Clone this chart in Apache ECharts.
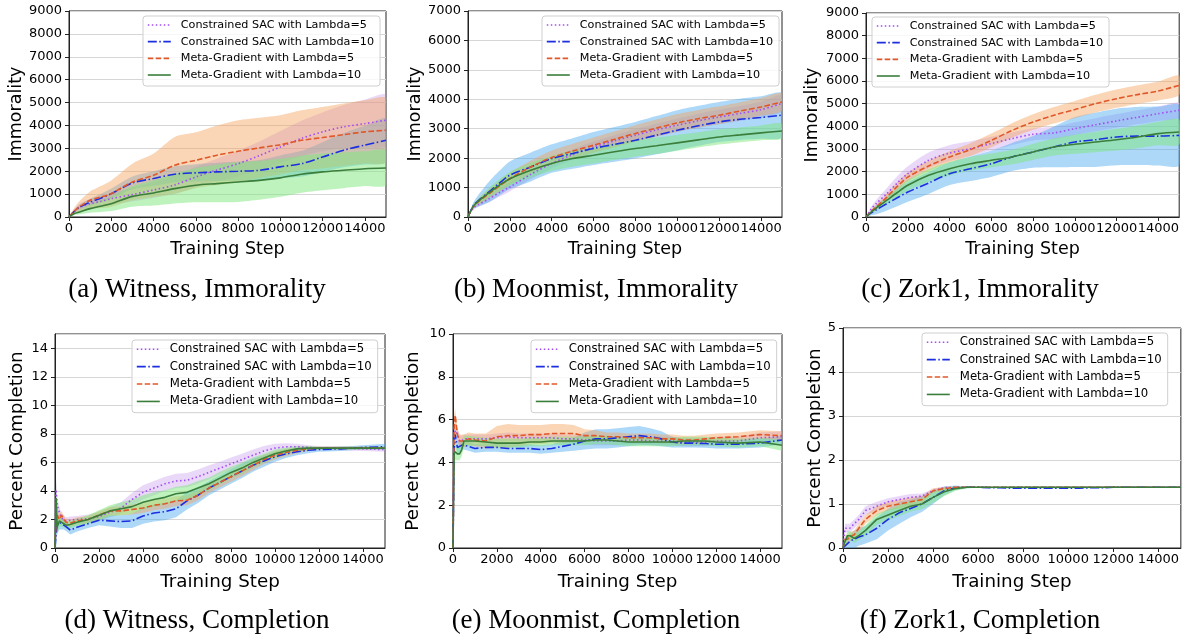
<!DOCTYPE html>
<html><head><meta charset="utf-8">
<script src="https://cdn.jsdelivr.net/npm/echarts@6/dist/echarts.min.js"></script>
<style>html,body{margin:0;padding:0;background:#fff}#c{width:1182px;height:636px}</style>
</head><body><div id="c"></div><script>
// ---------------- DATA ----------------
const METHODS = ['Constrained SAC with Lambda=5', 'Constrained SAC with Lambda=10', 'Meta-Gradient with Lambda=5', 'Meta-Gradient with Lambda=10'];
const xTicksLabelStep = 2000;

const stepsTop = [0, 250, 500, 1000, 1500, 2000, 3000, 4000, 5000, 6000, 7000, 8000, 9000, 10000, 11000, 12000, 13000, 14000, 15000];
const stepsBot = [0, 50, 100, 200, 300, 400, 500, 700, 1000, 1500, 2000, 2500, 3000, 3500, 4000, 4500, 5000, 5500, 6000, 6500, 7000, 7500, 8000, 8500, 9000, 9500, 10000, 10500, 11000, 11500, 12000, 13000, 14000, 15000];

// (a) Witness, Immorality
const witImm_csac5  = [0, 250, 440, 580, 680, 800, 980, 1180, 1400, 1750, 2050, 2330, 2680, 3060, 3430, 3720, 3940, 4080, 4230];
const witImm_csac10 = [0, 250, 430, 650, 820, 1020, 1490, 1680, 1870, 1930, 1970, 2000, 2040, 2190, 2330, 2620, 2920, 3140, 3350];
const witImm_mg5    = [0, 250, 450, 730, 870, 1020, 1530, 1820, 2260, 2480, 2700, 2870, 3020, 3160, 3350, 3470, 3600, 3720, 3790];
const witImm_mg10   = [0, 150, 220, 365, 470, 580, 900, 1050, 1240, 1390, 1460, 1530, 1600, 1710, 1870, 1970, 2040, 2110, 2140];
const witImm_csac5_err  = [0, 80, 150, 200, 220, 250, 300, 350, 400, 450, 500, 560, 620, 700, 780, 850, 950, 1050, 1100];
const witImm_csac10_err = [0, 60, 100, 150, 180, 220, 280, 320, 350, 380, 400, 420, 450, 500, 560, 650, 750, 850, 950];
const witImm_mg5_err    = [0, 150, 250, 380, 480, 580, 800, 950, 1240, 1220, 1300, 1360, 1320, 1290, 1310, 1340, 1360, 1380, 1390];
const witImm_mg10_err   = [0, 60, 100, 180, 250, 320, 450, 550, 650, 750, 820, 870, 850, 830, 810, 800, 780, 760, 750];

// (b) Moonmist, Immorality
const moonImm_csac5  = [0, 300, 420, 620, 830, 1020, 1450, 1820, 2120, 2380, 2590, 2780, 2960, 3120, 3270, 3400, 3520, 3650, 3860];
const moonImm_csac10 = [0, 380, 560, 850, 1150, 1420, 1700, 1985, 2160, 2330, 2470, 2610, 2780, 2950, 3100, 3230, 3320, 3380, 3460];
const moonImm_mg5    = [0, 350, 520, 790, 1050, 1300, 1700, 2020, 2240, 2440, 2640, 2840, 3020, 3200, 3340, 3460, 3600, 3740, 3910];
const moonImm_mg10   = [0, 360, 540, 820, 1080, 1300, 1590, 1820, 1985, 2100, 2220, 2330, 2420, 2520, 2620, 2720, 2790, 2860, 2920];
const moonImm_csac5_err  = [0, 50, 80, 120, 140, 150, 160, 170, 180, 190, 200, 210, 220, 230, 240, 250, 260, 270, 280];
const moonImm_csac10_err = [0, 100, 200, 350, 420, 470, 490, 485, 520, 560, 590, 620, 650, 680, 680, 680, 700, 720, 740];
const moonImm_mg5_err    = [0, 60, 100, 150, 180, 200, 220, 240, 250, 260, 270, 280, 290, 300, 300, 300, 300, 300, 300];
const moonImm_mg10_err   = [0, 60, 100, 160, 200, 230, 250, 260, 270, 280, 280, 280, 280, 270, 260, 260, 250, 250, 250];

// (c) Zork1, Immorality
const zorkImm_csac5  = [0, 350, 600, 1030, 1500, 1910, 2500, 2820, 3010, 3240, 3460, 3650, 3710, 3900, 4070, 4240, 4400, 4560, 4710];
const zorkImm_csac10 = [0, 180, 320, 590, 850, 1100, 1500, 1910, 2130, 2350, 2650, 2870, 3090, 3310, 3410, 3530, 3570, 3570, 3600];
const zorkImm_mg5    = [0, 250, 450, 880, 1350, 1760, 2250, 2650, 2970, 3380, 3820, 4190, 4490, 4740, 5000, 5220, 5400, 5560, 5810];
const zorkImm_mg10   = [0, 220, 400, 740, 1080, 1400, 1840, 2130, 2350, 2500, 2650, 2870, 3090, 3210, 3310, 3410, 3530, 3680, 3750];
const zorkImm_csac5_err  = [0, 100, 160, 250, 300, 330, 350, 350, 330, 300, 280, 270, 270, 280, 290, 300, 310, 320, 330];
const zorkImm_csac10_err = [0, 100, 200, 300, 380, 430, 480, 500, 540, 580, 620, 700, 900, 1100, 1200, 1250, 1280, 1300, 1320];
const zorkImm_mg5_err    = [0, 60, 100, 150, 180, 200, 230, 250, 280, 300, 320, 340, 360, 380, 390, 400, 410, 420, 430];
const zorkImm_mg10_err   = [0, 60, 100, 150, 200, 240, 280, 300, 300, 300, 320, 350, 380, 420, 450, 480, 500, 520, 550];

// (d) Witness, Completion
const witComp_csac5  = [0, 4.1, 3.0, 2.5, 2.1, 2.0, 1.9, 1.95, 2.0, 2.05, 2.2, 2.5, 2.8, 3.4, 3.9, 4.2, 4.5, 4.7, 4.75, 5.0, 5.3, 5.6, 5.9, 6.2, 6.5, 6.8, 7.0, 7.1, 7.1, 7.05, 7.0, 7.0, 6.95, 6.9];
const witComp_csac10 = [0, 1.0, 1.6, 1.8, 1.7, 1.6, 1.5, 1.25, 1.45, 1.7, 1.95, 1.9, 1.85, 1.9, 2.25, 2.45, 2.55, 2.75, 3.3, 3.7, 4.2, 4.6, 5.0, 5.4, 5.8, 6.1, 6.4, 6.6, 6.75, 6.85, 6.9, 6.95, 7.05, 7.1];
const witComp_mg5    = [0, 2.0, 2.3, 2.0, 2.3, 2.0, 1.8, 1.75, 1.9, 2.0, 2.3, 2.6, 2.6, 2.7, 2.8, 3.0, 3.1, 3.3, 3.35, 3.7, 4.2, 4.6, 5.0, 5.4, 5.8, 6.2, 6.5, 6.7, 6.85, 6.95, 7.0, 7.0, 7.0, 7.0];
const witComp_mg10   = [0, 3.5, 1.5, 1.9, 1.8, 1.7, 1.6, 1.65, 1.8, 2.0, 2.3, 2.6, 2.75, 2.9, 3.2, 3.4, 3.55, 3.8, 3.9, 4.2, 4.5, 4.9, 5.3, 5.6, 6.0, 6.3, 6.6, 6.8, 6.95, 7.0, 7.0, 7.0, 7.0, 7.0];
const witComp_csac5_err  = [0, 0.8, 0.6, 0.4, 0.3, 0.3, 0.25, 0.25, 0.25, 0.3, 0.3, 0.35, 0.4, 0.45, 0.5, 0.5, 0.5, 0.5, 0.5, 0.5, 0.5, 0.45, 0.45, 0.4, 0.4, 0.35, 0.3, 0.25, 0.2, 0.15, 0.15, 0.15, 0.15, 0.15];
const witComp_csac10_err = [0, 1.0, 0.6, 0.5, 0.4, 0.3, 0.3, 0.3, 0.3, 0.3, 0.35, 0.4, 0.45, 0.5, 0.55, 0.6, 0.6, 0.6, 0.6, 0.55, 0.5, 0.5, 0.5, 0.5, 0.45, 0.4, 0.35, 0.3, 0.25, 0.2, 0.15, 0.15, 0.15, 0.2];
const witComp_mg5_err    = [0, 0.8, 0.5, 0.4, 0.3, 0.25, 0.25, 0.25, 0.25, 0.25, 0.3, 0.3, 0.3, 0.35, 0.35, 0.35, 0.35, 0.35, 0.35, 0.35, 0.35, 0.35, 0.35, 0.35, 0.35, 0.3, 0.3, 0.25, 0.2, 0.15, 0.1, 0.1, 0.1, 0.1];
const witComp_mg10_err   = [0, 1.0, 0.6, 0.4, 0.3, 0.25, 0.25, 0.25, 0.25, 0.3, 0.35, 0.4, 0.45, 0.5, 0.5, 0.5, 0.5, 0.5, 0.5, 0.5, 0.45, 0.45, 0.4, 0.4, 0.35, 0.3, 0.3, 0.25, 0.2, 0.15, 0.1, 0.1, 0.1, 0.1];

// (e) Moonmist, Completion
const moonComp_csac5  = [0, 5.0, 5.5, 5.3, 5.0, 5.0, 5.1, 5.1, 5.1, 5.1, 5.15, 5.2, 5.15, 5.15, 5.15, 5.15, 5.1, 5.1, 5.05, 5.0, 5.0, 5.0, 5.05, 5.05, 5.0, 5.0, 5.0, 4.95, 4.95, 4.95, 5.0, 5.0, 5.15, 5.2];
const moonComp_csac10 = [0, 4.6, 5.3, 4.7, 4.75, 4.8, 4.8, 4.75, 4.65, 4.7, 4.7, 4.65, 4.65, 4.65, 4.6, 4.65, 4.75, 4.85, 5.0, 5.1, 5.1, 5.15, 5.2, 5.25, 5.2, 5.1, 4.95, 4.9, 4.9, 4.88, 4.85, 4.85, 4.9, 5.05];
const moonComp_mg5    = [0, 5.6, 6.2, 5.3, 5.0, 5.0, 5.0, 5.1, 5.05, 5.0, 5.2, 5.25, 5.25, 5.3, 5.3, 5.35, 5.35, 5.35, 5.25, 5.25, 5.2, 5.2, 5.15, 5.15, 5.15, 5.1, 5.1, 5.05, 5.05, 5.1, 5.15, 5.2, 5.3, 5.25];
const moonComp_mg10   = [0, 4.4, 4.5, 4.4, 4.4, 4.6, 5.0, 5.0, 5.0, 4.95, 4.9, 4.9, 4.9, 4.95, 4.95, 5.0, 5.0, 5.0, 5.0, 5.05, 5.05, 5.0, 4.95, 4.95, 4.95, 4.95, 4.95, 5.0, 5.0, 5.0, 4.95, 4.9, 4.95, 4.8];
const moonComp_csac5_err  = [0, 0.5, 0.4, 0.3, 0.25, 0.25, 0.2, 0.2, 0.2, 0.2, 0.2, 0.2, 0.2, 0.2, 0.2, 0.2, 0.2, 0.2, 0.2, 0.2, 0.2, 0.2, 0.2, 0.2, 0.2, 0.2, 0.2, 0.2, 0.2, 0.2, 0.2, 0.2, 0.25, 0.25];
const moonComp_csac10_err = [0, 0.5, 0.4, 0.3, 0.25, 0.2, 0.2, 0.2, 0.2, 0.2, 0.2, 0.2, 0.2, 0.2, 0.2, 0.2, 0.25, 0.3, 0.4, 0.45, 0.45, 0.45, 0.45, 0.45, 0.4, 0.35, 0.25, 0.2, 0.2, 0.2, 0.2, 0.2, 0.2, 0.2];
const moonComp_mg5_err    = [0, 0.6, 0.3, 0.3, 0.3, 0.3, 0.3, 0.3, 0.3, 0.35, 0.5, 0.55, 0.5, 0.45, 0.45, 0.45, 0.45, 0.4, 0.3, 0.25, 0.2, 0.2, 0.2, 0.2, 0.2, 0.2, 0.2, 0.2, 0.2, 0.2, 0.2, 0.2, 0.2, 0.2];
const moonComp_mg10_err   = [0, 0.5, 0.4, 0.3, 0.3, 0.3, 0.25, 0.25, 0.2, 0.2, 0.2, 0.2, 0.2, 0.2, 0.2, 0.2, 0.2, 0.2, 0.2, 0.2, 0.2, 0.2, 0.2, 0.2, 0.2, 0.2, 0.2, 0.2, 0.2, 0.2, 0.2, 0.2, 0.2, 0.25];

// (f) Zork1, Completion
const zorkComp_csac5  = [0, 0.3, 0.45, 0.45, 0.45, 0.5, 0.55, 0.65, 0.85, 0.95, 1.05, 1.1, 1.15, 1.18, 1.3, 1.37, 1.38, 1.38, 1.38, 1.38, 1.38, 1.38, 1.38, 1.38, 1.38, 1.38, 1.38, 1.38, 1.38, 1.38, 1.38, 1.38, 1.38, 1.38];
const zorkComp_csac10 = [0, 0.02, 0.05, 0.1, 0.15, 0.18, 0.2, 0.25, 0.3, 0.45, 0.65, 0.8, 0.9, 1.0, 1.15, 1.3, 1.37, 1.38, 1.38, 1.37, 1.37, 1.36, 1.36, 1.36, 1.36, 1.36, 1.36, 1.36, 1.37, 1.37, 1.38, 1.38, 1.38, 1.38];
const zorkComp_mg5    = [0, 0.1, 0.2, 0.2, 0.25, 0.28, 0.3, 0.45, 0.65, 0.85, 0.95, 1.0, 1.05, 1.1, 1.3, 1.35, 1.38, 1.38, 1.38, 1.38, 1.38, 1.38, 1.38, 1.38, 1.38, 1.38, 1.38, 1.38, 1.38, 1.38, 1.38, 1.38, 1.38, 1.38];
const zorkComp_mg10   = [0, 0.1, 0.1, 0.28, 0.28, 0.25, 0.22, 0.28, 0.4, 0.65, 0.75, 0.85, 0.95, 1.0, 1.15, 1.28, 1.35, 1.38, 1.38, 1.38, 1.38, 1.38, 1.38, 1.38, 1.38, 1.38, 1.38, 1.38, 1.38, 1.38, 1.38, 1.38, 1.38, 1.38];
const zorkComp_csac5_err  = [0, 0.1, 0.1, 0.1, 0.1, 0.1, 0.1, 0.1, 0.1, 0.1, 0.08, 0.08, 0.08, 0.06, 0.04, 0.02, 0.01, 0.01, 0.01, 0.01, 0.01, 0.01, 0.01, 0.01, 0.01, 0.01, 0.01, 0.01, 0.01, 0.01, 0.01, 0.01, 0.01, 0.01];
const zorkComp_csac10_err = [0, 0.05, 0.1, 0.15, 0.15, 0.18, 0.2, 0.2, 0.2, 0.25, 0.25, 0.25, 0.2, 0.18, 0.15, 0.1, 0.05, 0.02, 0.01, 0.01, 0.01, 0.01, 0.01, 0.01, 0.01, 0.01, 0.01, 0.01, 0.01, 0.01, 0.01, 0.01, 0.01, 0.01];
const zorkComp_mg5_err    = [0, 0.05, 0.1, 0.1, 0.1, 0.1, 0.1, 0.1, 0.1, 0.1, 0.1, 0.1, 0.1, 0.08, 0.06, 0.04, 0.02, 0.01, 0.01, 0.01, 0.01, 0.01, 0.01, 0.01, 0.01, 0.01, 0.01, 0.01, 0.01, 0.01, 0.01, 0.01, 0.01, 0.01];
const zorkComp_mg10_err   = [0, 0.1, 0.1, 0.1, 0.1, 0.1, 0.1, 0.1, 0.12, 0.12, 0.12, 0.12, 0.12, 0.12, 0.12, 0.1, 0.05, 0.02, 0.01, 0.01, 0.01, 0.01, 0.01, 0.01, 0.01, 0.01, 0.01, 0.01, 0.01, 0.01, 0.01, 0.01, 0.01, 0.01];

const captions = ['(a) Witness, Immorality', '(b) Moonmist, Immorality', '(c) Zork1, Immorality', '(d) Witness, Completion', '(e) Moonmist, Completion', '(f) Zork1, Completion'];

// ---------------- STYLE / LAYOUT ----------------
const LINE_COLORS = ['#a24cf2', '#1c2ee0', '#e0582a', '#3b7d3b'];
const LINE_DASH = [[1.5, 2.5], [9, 2.5, 1.5, 2.5], [5.5, 2.4], 'solid'];
const BAND_COLORS = ['#b57ee8', '#4aa8f0', '#f4a460', '#7ee87e'];
const BAND_OP = [0.3, 0.45, 0.45, 0.5];
const FONT = '"DejaVu Sans", sans-serif';

const panels = [
  {steps: stepsTop, means: [witImm_csac5, witImm_csac10, witImm_mg5, witImm_mg10], errs: [witImm_csac5_err, witImm_csac10_err, witImm_mg5_err, witImm_mg10_err],
   grid: {left: 69, top: 11, width: 317, height: 206}, yMax: 9000, yInt: 1000, yName: 'Immorality', gapY: 43, gapX: 23, legend: {left: 143, top: 16}, cap: [197, 290], row: 0},
  {steps: stepsTop, means: [moonImm_csac5, moonImm_csac10, moonImm_mg5, moonImm_mg10], errs: [moonImm_csac5_err, moonImm_csac10_err, moonImm_mg5_err, moonImm_mg10_err],
   grid: {left: 468, top: 11, width: 314, height: 206}, yMax: 7000, yInt: 1000, yName: 'Immorality', gapY: 44, gapX: 23, legend: {left: 542, top: 16}, cap: [596, 290], row: 0},
  {steps: stepsTop, means: [zorkImm_csac5, zorkImm_csac10, zorkImm_mg5, zorkImm_mg10], errs: [zorkImm_csac5_err, zorkImm_csac10_err, zorkImm_mg5_err, zorkImm_mg10_err],
   grid: {left: 866, top: 13, width: 315, height: 204}, yMax: 9000, yInt: 1000, yName: 'Immorality', gapY: 45, gapX: 23, legend: {left: 872, top: 17}, cap: [980, 290], row: 0},
  {steps: stepsBot, means: [witComp_csac5, witComp_csac10, witComp_mg5, witComp_mg10], errs: [witComp_csac5_err, witComp_csac10_err, witComp_mg5_err, witComp_mg10_err],
   grid: {left: 55, top: 334, width: 330, height: 214}, yMax: 15, yInt: 2, yName: 'Percent Completion', gapY: 29, gapX: 25, legend: {left: 132, top: 340}, cap: [197, 621], row: 1},
  {steps: stepsBot, means: [moonComp_csac5, moonComp_csac10, moonComp_mg5, moonComp_mg10], errs: [moonComp_csac5_err, moonComp_csac10_err, moonComp_mg5_err, moonComp_mg10_err],
   grid: {left: 453, top: 334, width: 329, height: 214}, yMax: 10, yInt: 2, yName: 'Percent Completion', gapY: 31, gapX: 25, legend: {left: 531, top: 340}, cap: [596, 621], row: 1},
  {steps: stepsBot, means: [zorkComp_csac5, zorkComp_csac10, zorkComp_mg5, zorkComp_mg10], errs: [zorkComp_csac5_err, zorkComp_csac10_err, zorkComp_mg5_err, zorkComp_mg10_err],
   grid: {left: 843, top: 328, width: 338, height: 220}, yMax: 5, yInt: 1, yName: 'Percent Completion', gapY: 19, gapX: 25, legend: {left: 922, top: 333}, cap: [980, 621], row: 1}
];
const ROW = [
  {tick: 13, name: 17.5, leg: 11.2, legLH: 14, legGap: 2.67, smooth: 0.3},
  {tick: 13, name: 18.3, leg: 11.7, legLH: 14.5, legGap: 2.9, smooth: false}
];

const grids = [], xAxes = [], yAxes = [], legends = [], series = [], graphics = [];
panels.forEach((p, i) => {
  const r = ROW[p.row];
  grids.push(Object.assign({show: true, borderColor: '#222', borderWidth: 1, backgroundColor: 'transparent', containLabel: false}, p.grid));
  xAxes.push({
    gridIndex: i, type: 'value', min: 0, max: 15000, interval: xTicksLabelStep,
    name: 'Training Step', nameLocation: 'middle', nameGap: p.gapX,
    nameTextStyle: {fontFamily: FONT, fontSize: r.name, color: '#000'},
    axisLine: {show: true, onZero: false, lineStyle: {color: '#222', width: 1}},
    axisTick: {show: true, length: 4, lineStyle: {color: '#222'}},
    axisLabel: {fontFamily: FONT, fontSize: r.tick, color: '#000', margin: 5, showMaxLabel: false, hideOverlap: false, formatter: v => String(v)},
    splitLine: {show: false}
  });
  yAxes.push({
    gridIndex: i, type: 'value', min: 0, max: p.yMax, interval: p.yInt,
    name: p.yName, nameLocation: 'middle', nameGap: p.gapY, nameRotate: 90,
    nameTextStyle: {fontFamily: FONT, fontSize: r.name, color: '#000'},
    axisLine: {show: true, onZero: false, lineStyle: {color: '#222', width: 1}},
    axisTick: {show: true, length: 4, lineStyle: {color: '#222'}},
    axisLabel: {fontFamily: FONT, fontSize: r.tick, color: '#000', margin: 7, showMaxLabel: p.yMax % p.yInt === 0, formatter: v => String(v)},
    splitLine: {show: true, lineStyle: {color: '#d6d6d6', width: 1}}
  });
  legends.push({
    left: p.legend.left, top: p.legend.top, orient: 'vertical', data: METHODS, selectedMode: false,
    itemWidth: 23, itemHeight: 10, itemGap: r.legGap, padding: [2, 6, 4, 4],
    backgroundColor: 'rgba(255,255,255,0.8)', borderColor: '#cfcfcf', borderWidth: 1, borderRadius: 3,
    textStyle: {fontFamily: FONT, fontSize: r.leg, color: '#000', lineHeight: r.legLH, padding: [0, 0, 0, 5]},
    itemStyle: {color: 'rgba(0,0,0,0)', borderColor: 'rgba(0,0,0,0)', borderWidth: 0, opacity: 0},
    lineStyle: {width: 1.6}, z: 10
  });
  // confidence bands: one polygon per method, placed through the axes' scales (api.coord)
  p.means.forEach((m, k) => {
    const e = p.errs[k];
    const smooth = r.smooth ? 0.25 : 0;
    series.push({
      type: 'custom', name: 'band_' + i + '_' + k, xAxisIndex: i, yAxisIndex: i, clip: true, silent: true, z: 1,
      data: p.steps.map((s, j) => [s, m[j] - e[j], m[j] + e[j]]),
      encode: {x: 0, y: [1, 2]},
      renderItem: function (params, api) {
        if (params.dataIndex !== 0) return null;
        const up = [], lo = [];
        for (let j = 0; j < p.steps.length; j++) {
          up.push(api.coord([p.steps[j], m[j] + e[j]]));
          lo.push(api.coord([p.steps[j], m[j] - e[j]]));
        }
        return {
          type: 'polygon',
          shape: {points: up.concat(lo.reverse()), smooth: smooth},
          style: {fill: BAND_COLORS[k], opacity: BAND_OP[k]}
        };
      }
    });
  });
  p.means.forEach((m, k) => {
    series.push({
      type: 'line', name: METHODS[k], xAxisIndex: i, yAxisIndex: i, color: LINE_COLORS[k],
      data: p.steps.map((s, j) => [s, m[j]]), symbol: 'none', smooth: r.smooth,
      lineStyle: {color: LINE_COLORS[k], width: 1.6, type: LINE_DASH[k]}, z: 3
    });
  });
  graphics.push({
    type: 'text', x: p.cap[0], y: p.cap[1], silent: true,
    style: {text: captions[i], font: '27px "Liberation Serif", serif', fill: '#000', align: 'center', verticalAlign: 'middle', textAlign: 'center', textVerticalAlign: 'middle'}
  });
});

const chart = echarts.init(document.getElementById('c'), null, {renderer: 'canvas'});
chart.setOption({
  animation: false,
  backgroundColor: '#ffffff',
  grid: grids, xAxis: xAxes, yAxis: yAxes, legend: legends, series: series, graphic: graphics
});
</script></body></html>
